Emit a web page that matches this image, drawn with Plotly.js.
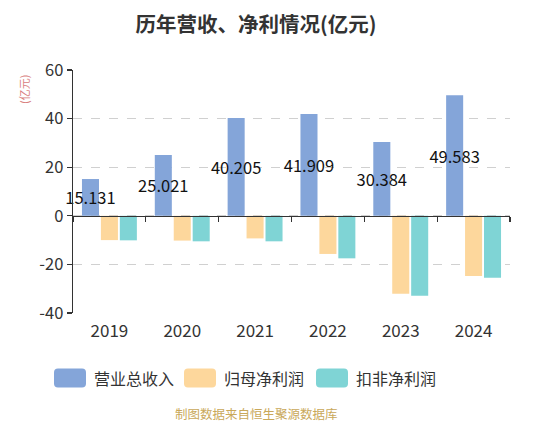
<!DOCTYPE html>
<html>
<head>
<meta charset="utf-8">
<script src="https://cdn.plot.ly/plotly-3.0.1.min.js"></script>
<style>html,body{margin:0;padding:0;background:#fff;}#chart{width:550px;height:438px;}</style>
</head>
<body>
<div id="chart"></div>
<script>
var years = ['2019', '2020', '2021', '2022', '2023', '2024'];
var revenue = [15.131, 25.021, 40.205, 41.909, 30.384, 49.583];
var netProfit = [-10.0, -10.2, -9.3, -15.7, -32.1, -24.8];
var deductedProfit = [-10.1, -10.5, -10.5, -17.5, -32.9, -25.5];
var seriesNames = ['营业总收入', '归母净利润', '扣非净利润'];
var seriesColors = ['#84a5d9', '#fdd79c', '#7fd4d5'];
var yTicks = [-40, -20, 0, 20, 40, 60];

var FONT = '"Noto Sans CJK SC", "Noto Sans", sans-serif';

// plot-area pixel geometry helpers (for layout elements only)
var L = 73, R = 510, T = 70, B = 313;
function px(x) { return (x - L) / (R - L); }
function py(y) { return (B - y) / (B - T); }

var traces = [
  {type: 'bar', name: seriesNames[0], x: years, y: revenue,
   marker: {color: seriesColors[0]},
   text: revenue.map(function(v){ return v.toFixed(3); }),
   textposition: 'inside', insidetextanchor: 'middle', textangle: 0,
   constraintext: 'none', cliponaxis: false,
   insidetextfont: {family: FONT, size: 16.5, color: '#111'},
   hoverinfo: 'x+y'},
  {type: 'bar', name: seriesNames[1], x: years, y: netProfit,
   marker: {color: seriesColors[1]}, hoverinfo: 'x+y'},
  {type: 'bar', name: seriesNames[2], x: years, y: deductedProfit,
   marker: {color: seriesColors[2]}, hoverinfo: 'x+y'},
  {type: 'scatter', mode: 'markers', x: years, y: years.map(function(){ return null; }),
   xaxis: 'x2', yaxis: 'y', showlegend: false, hoverinfo: 'skip'}
];

function roundRect(w, h, r) {
  var a = w / 2, b = h / 2;
  return 'M' + (-a + r) + ',' + (-b) + ' L' + (a - r) + ',' + (-b) +
    ' Q' + a + ',' + (-b) + ' ' + a + ',' + (-b + r) +
    ' L' + a + ',' + (b - r) + ' Q' + a + ',' + b + ' ' + (a - r) + ',' + b +
    ' L' + (-a + r) + ',' + b + ' Q' + (-a) + ',' + b + ' ' + (-a) + ',' + (b - r) +
    ' L' + (-a) + ',' + (-b + r) + ' Q' + (-a) + ',' + (-b) + ' ' + (-a + r) + ',' + (-b) + ' Z';
}

var shapes = [];
var annotations = [];
var legendRectX = [70, 200, 332];
var legendY = 378;
seriesNames.forEach(function(name, i) {
  shapes.push({type: 'path', xref: 'paper', yref: 'paper',
    xsizemode: 'pixel', ysizemode: 'pixel',
    xanchor: px(legendRectX[i]), yanchor: py(legendY),
    path: roundRect(32, 19, 4),
    fillcolor: seriesColors[i], line: {width: 0}});
  annotations.push({xref: 'paper', yref: 'paper', x: px(legendRectX[i] + 22), y: py(legendY),
    xanchor: 'left', yanchor: 'middle', showarrow: false, text: name,
    font: {family: FONT, size: 16, color: '#333'}});
});

annotations.push({xref: 'paper', yref: 'paper', x: px(24), y: py(90),
  xanchor: 'center', yanchor: 'middle', showarrow: false, textangle: -90,
  text: '(亿元)', font: {family: FONT, size: 11, color: '#d98080'}});
annotations.push({xref: 'paper', yref: 'paper', x: px(256), y: py(413),
  xanchor: 'center', yanchor: 'middle', showarrow: false,
  text: '制图数据来自恒生聚源数据库', font: {family: FONT, size: 12.5, color: '#c9a85a'}});

var layout = {
  width: 550, height: 438,
  margin: {l: L, r: 550 - R, t: T, b: 438 - B, pad: 0},
  paper_bgcolor: '#fff', plot_bgcolor: '#fff',
  showlegend: false,
  barmode: 'group', bargap: 0.22, bargroupgap: 0.1,
  title: {text: '<b>历年营收、净利情况(亿元)</b>', x: 256 / 550, xanchor: 'center',
          y: 1 - 25 / 438, yanchor: 'middle',
          font: {family: FONT, size: 20.5, color: '#333'}},
  font: {family: FONT, color: '#333'},
  xaxis: {type: 'category', categoryarray: years, range: [-0.5, 5.5],
          showline: false, ticks: '', showgrid: false, zeroline: false,
          ticklabelstandoff: 6,
          tickfont: {family: FONT, size: 17, color: '#333'}, fixedrange: true},
  xaxis2: {type: 'category', categoryarray: years, range: [-0.5, 5.5],
           overlaying: 'x', anchor: 'free', position: 0.4,
           showline: true, linecolor: '#333', linewidth: 1.3,
           ticks: 'outside', tickson: 'boundaries', ticklen: 5, tickcolor: '#333', tickwidth: 1.3,
           showticklabels: false, showgrid: false, zeroline: false, fixedrange: true},
  yaxis: {range: [-40, 60], tickvals: yTicks, ticktext: yTicks.map(String),
          showline: true, linecolor: '#333', linewidth: 1.3,
          ticks: 'outside', ticklen: 5, tickcolor: '#333', tickwidth: 1.3,
          showgrid: true, gridcolor: '#d0d0d0', griddash: 'dash', gridwidth: 1,
          zeroline: false,
          tickfont: {family: FONT, size: 16.5, color: '#333'}, fixedrange: true},
  shapes: shapes,
  annotations: annotations
};

Plotly.newPlot('chart', traces, layout, {displayModeBar: false, staticPlot: true});
</script>
</body>
</html>
